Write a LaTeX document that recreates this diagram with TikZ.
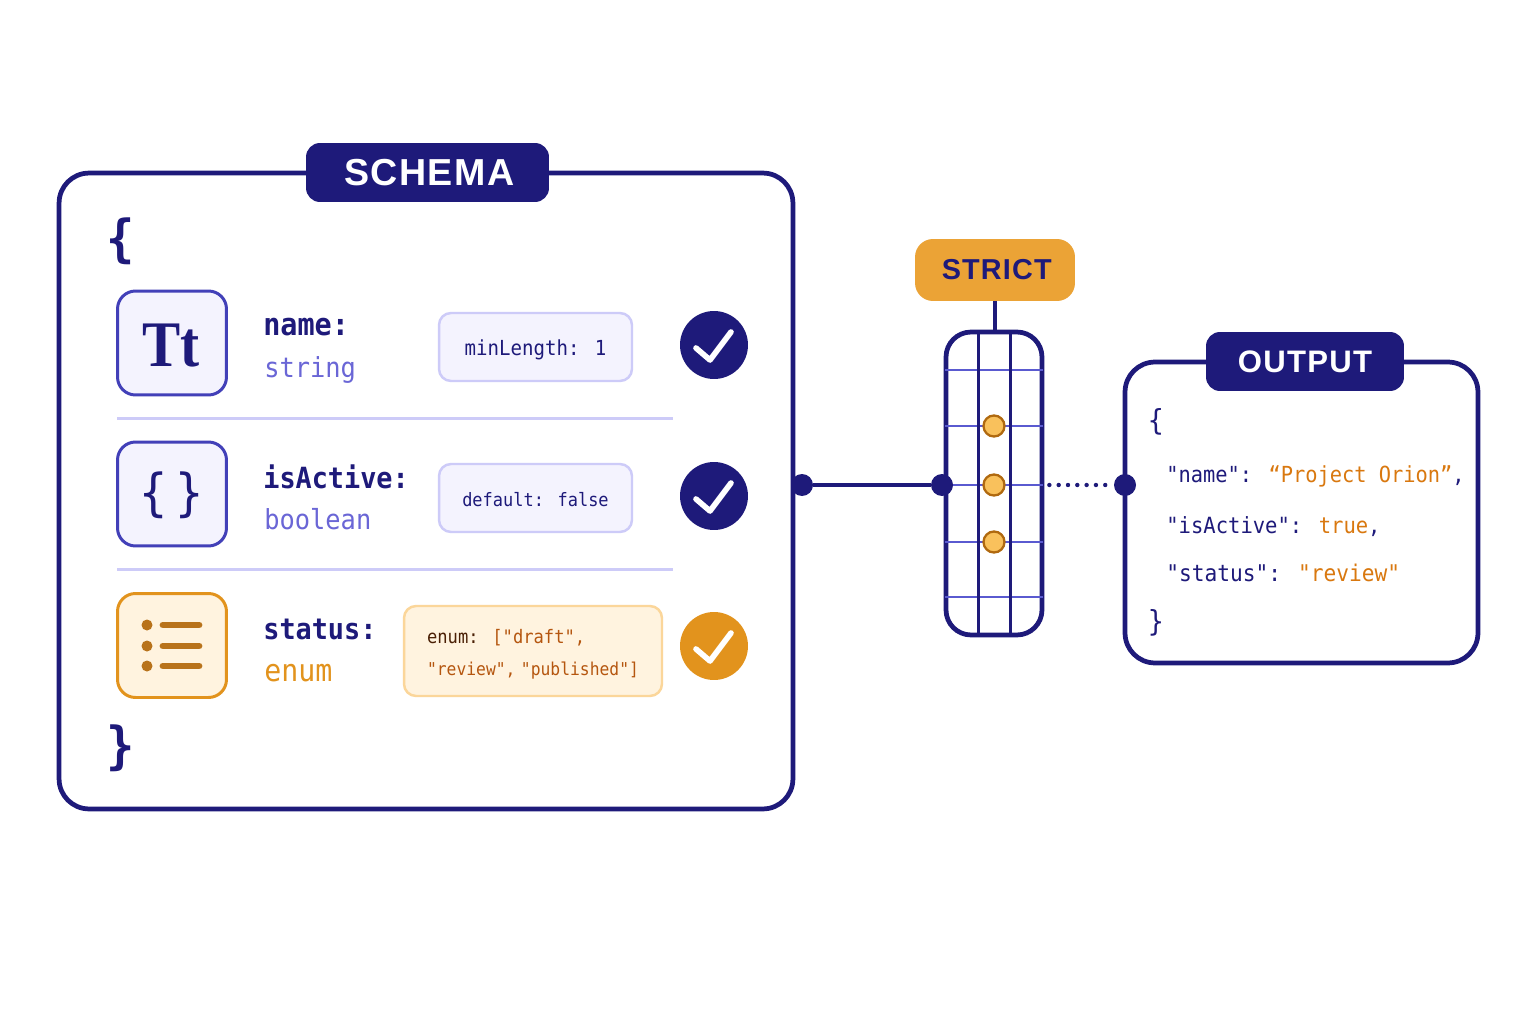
\documentclass[tikz,border=0pt]{standalone}
\usepackage{fontspec}
\usetikzlibrary{positioning}
\newfontfamily\codefont[FakeStretch=0.92]{DejaVu Sans Mono}
\newfontfamily\headfont[LetterSpace=4]{Liberation Sans}
\newfontfamily\iconfont[FakeStretch=0.88]{Liberation Serif}
\definecolor{navy}{HTML}{1E1A7A}
\definecolor{violet}{HTML}{6A66D6}
\definecolor{iconline}{HTML}{4240B8}
\definecolor{gridline}{HTML}{5A5AD0}
\definecolor{softline}{HTML}{CDCBF8}
\definecolor{softfill}{HTML}{F4F3FE}
\definecolor{amber}{HTML}{E2931D}
\definecolor{amberfill}{HTML}{FFF3DF}
\definecolor{amberline}{HTML}{FBD69A}
\definecolor{strictfill}{HTML}{EBA336}
\definecolor{pinfill}{HTML}{F9C15C}
\definecolor{pinline}{HTML}{B0690F}
\definecolor{barfill}{HTML}{B8721A}
\definecolor{rust}{HTML}{B5560F}
\definecolor{brown}{HTML}{4A1F05}
\definecolor{outval}{HTML}{D9780F}
\begin{document}
\begin{tikzpicture}[x=0.02cm, y=-0.02cm]

		\tikzstyle{frame}=[rectangle, rounded corners=0.6cm, draw=navy, line width=2.7pt, fill=white, inner sep=0pt]
		\tikzstyle{badge}=[rectangle, rounded corners=0.28cm, fill=navy, text=white, inner sep=0pt, minimum height=1.18cm, font=\headfont\bfseries\fontsize{21.4}{24}\selectfont]
		\tikzstyle{icon}=[rectangle, rounded corners=0.36cm, draw=#1, line width=1.7pt, inner sep=0pt, minimum width=2.18cm, minimum height=2.08cm]
		\tikzstyle{pill}=[rectangle, rounded corners=0.24cm, draw=softline, line width=1.4pt, fill=softfill, text=navy, inner sep=0pt, minimum width=3.86cm, minimum height=1.36cm, text height=10.2pt, text depth=0pt, font=\codefont\fontsize{11.8}{14}\selectfont]
		\tikzstyle{fieldname}=[anchor=base west, inner sep=0pt, text=navy, font=\codefont\bfseries\fontsize{16.6}{18}\selectfont]
		\tikzstyle{fieldtype}=[anchor=base west, inner sep=0pt, font=\codefont\fontsize{15.7}{18}\selectfont]
		\tikzstyle{brace}=[inner sep=0pt, text=navy, font=\codefont\bfseries\fontsize{29}{32}\selectfont]
		\tikzstyle{outline}=[anchor=base west, inner sep=0pt, text=navy, font=\codefont\fontsize{12.6}{15}\selectfont]
		\tikzstyle{okmark}=[circle, inner sep=0pt, minimum size=1.36cm]
		\tikzstyle{tick}=[draw=white, line width=3.2pt, line cap=round, line join=round]
		\tikzstyle{joint}=[circle, fill=navy, inner sep=0pt, minimum size=0.44cm]
		\tikzstyle{pin}=[circle, draw=pinline, line width=1.3pt, fill=pinfill, inner sep=0pt, minimum size=0.42cm]
		\tikzstyle{divider}=[draw=softline, line width=1.4pt]
		\tikzstyle{rail}=[draw=navy, line width=1.7pt]
		\tikzstyle{rung}=[draw=gridline, line width=1.5pt, shorten <=1pt, shorten >=1pt]
		\tikzstyle{link}=[draw=navy, line width=2.6pt]
		\tikzstyle{listbar}=[draw=barfill, line width=3.9pt, line cap=round]

		\useasboundingbox (0,0) rectangle (1536,1024);
		\fill[white] (0,0) rectangle (1536,1024);

		% Schema panel
		\node[frame, minimum width=14.68cm, minimum height=12.72cm] (schema) at (426,491) {};
		\node[badge, minimum width=4.86cm] (schematag) at (427.5,172.5) {\hspace{2pt}SCHEMA};
		\node[brace] (open) at (121,241.5) {\{};
		\node[brace] (close) at (121,748.5) {\}};

		\node[icon=iconline, fill=softfill] (iconname) at (172,343) {};
		\node[icon=iconline, fill=softfill] (iconactive) at (172,494) {};
		\node[icon=amber, fill=amberfill] (iconstatus) at (172,645.5) {};
		\node[text=navy, inner sep=0pt, font=\iconfont\bfseries\fontsize{37}{40}\selectfont] (tt) at (171,346) {Tt};
		\node[text=navy, inner sep=0pt, font=\codefont\fontsize{29}{32}\selectfont] (curly) at (171.5,495) {\{\,\}};

		% List glyph
		\fill[barfill] (147,625) circle [radius=5.5];
		\fill[barfill] (147,646) circle [radius=5.5];
		\fill[barfill] (147,666) circle [radius=5.5];
		\draw[listbar] (163,625) -- (199,625);
		\draw[listbar] (163,646) -- (199,646);
		\draw[listbar] (163,666) -- (199,666);

		\node[fieldname, font=\codefont\bfseries\fontsize{17.6}{20}\selectfont] (name) at (263,335) {name:};
		\node[fieldtype, text=violet] (namet) at (264,377) {string};
		\node[fieldname] (active) at (263,488) {isActive:};
		\node[fieldtype, text=violet] (activet) at (264,529) {boolean};
		\node[fieldname] (status) at (263,639) {status:};
		\node[fieldtype, text=amber, font=\codefont\fontsize{17.5}{20}\selectfont] (statust) at (264,681) {enum};

		\node[pill] (minlen) at (535.5,347) {minLength: 1};
		\node[pill, font=\codefont\fontsize{10.5}{14}\selectfont] (default) at (535.5,498) {default: false};
		\node[pill, draw=amberline, fill=amberfill, text=brown, minimum width=5.16cm, minimum height=1.8cm, text height=, text depth=, align=left, font=\codefont\fontsize{10.6}{17.7}\selectfont] (enumrule) at (533,651)
			{\rule{0pt}{11.8pt}enum: \textcolor{rust}{["draft",}\\{\fontsize{10.1}{17.7}\selectfont\textcolor{rust}{"review",\hspace{-2.5pt} "published"]}}};

		\draw[divider] (117,418.5) -- (673,418.5);
		\draw[divider] (117,569.5) -- (673,569.5);

		\node[okmark, fill=navy] (ok1) at (714,345) {};
		\node[okmark, fill=navy] (ok2) at (714,496) {};
		\node[okmark, fill=amber] (ok3) at (714,646) {};
		\draw[tick] ([shift={(-18,3)}]ok1.center) -- ([shift={(-4,15)}]ok1.center) -- ([shift={(17,-13)}]ok1.center);
		\draw[tick] ([shift={(-18,3)}]ok2.center) -- ([shift={(-4,15)}]ok2.center) -- ([shift={(17,-13)}]ok2.center);
		\draw[tick] ([shift={(-18,3)}]ok3.center) -- ([shift={(-4,15)}]ok3.center) -- ([shift={(17,-13)}]ok3.center);

		% Strict filter
		\node[rectangle, rounded corners=0.36cm, fill=strictfill, text=navy, inner sep=0pt, minimum width=3.2cm, minimum height=1.24cm, font=\headfont\bfseries\fontsize{16.4}{20}\selectfont] (strict) at (995,270) {\hspace{2pt}STRICT};
		\node[frame, rounded corners=0.5cm, minimum width=1.92cm, minimum height=6.06cm] (filter) at (994,483.5) {};
		\draw[link] (strict.south) -- (strict.south |- filter.north);

		\draw[rung] (filter.west |- 0,370) -- (filter.east |- 0,370);
		\draw[rung] (filter.west |- 0,426) -- (filter.east |- 0,426);
		\draw[rung] (filter.west |- 0,485) -- (filter.east |- 0,485);
		\draw[rung] (filter.west |- 0,542) -- (filter.east |- 0,542);
		\draw[rung] (filter.west |- 0,597) -- (filter.east |- 0,597);
		\draw[rail] (978,334) -- (978,633);
		\draw[rail] (1010,334) -- (1010,633);

		\node[pin] (pin1) at (994,426) {};
		\node[pin] (pin2) at (994,485) {};
		\node[pin] (pin3) at (994,542) {};

		% Output panel
		\node[frame, minimum width=7.06cm, minimum height=6.02cm] (output) at (1301.5,512.5) {};
		\node[badge, minimum width=3.96cm, font=\headfont\bfseries\fontsize{17.7}{20}\selectfont] (outputtag) at (1305,361.5) {OUTPUT};
		\node[outline, anchor=center, font=\codefont\fontsize{16.5}{18}\selectfont] (outopen) at (1156,422) {\{};
		\node[outline] (outname) at (1166,482) {"name": \textcolor{outval}{“Project Orion”},};
		\node[outline, font=\codefont\fontsize{12.7}{15}\selectfont] (outactive) at (1166,533) {"isActive": \textcolor{outval}{true},};
		\node[outline, font=\codefont\fontsize{13.1}{15}\selectfont] (outstatus) at (1166,581) {"status": \textcolor{outval}{"review"}};
		\node[outline, anchor=center, font=\codefont\fontsize{16.5}{18}\selectfont] (outclose) at (1156,623) {\}};

		% Flow links
		\node[joint] (jschema) at (802,485) {};
		\node[joint] (jfilter) at (942,485) {};
		\node[joint] (joutput) at (1125,485) {};
		\draw[link] (jschema) -- (jfilter);
		\draw[navy, line width=2.5pt, line cap=round, dash pattern=on 0pt off 5.3pt, shorten <=0.1cm, shorten >=0.14cm] (pin2 -| filter.east) -- (joutput);

\end{tikzpicture}
\end{document}
